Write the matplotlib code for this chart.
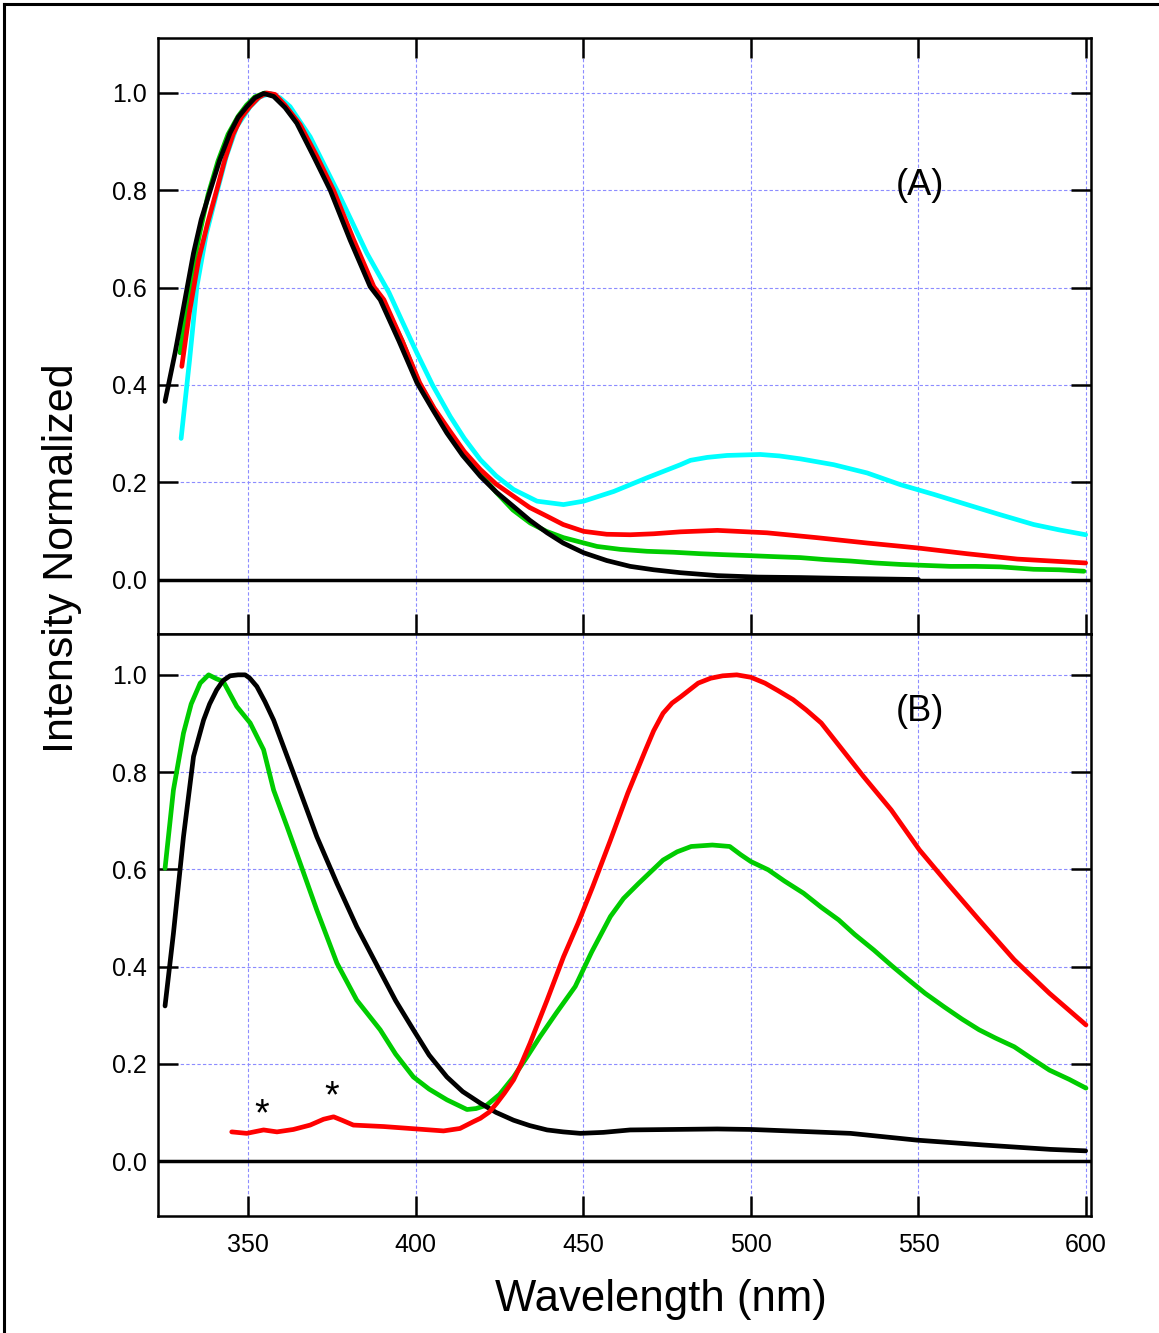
import matplotlib
matplotlib.use("Agg")
import matplotlib.pyplot as plt
from matplotlib.lines import Line2D

plt.rcParams['font.family'] = ['Liberation Sans', 'DejaVu Sans']

# ---------------- Panel (A) data ----------------
a_black_x = [325.2, 328.2, 331, 333.7, 336, 338.7, 341.5, 344.6, 347, 349.6, 352, 354.6, 357.6,
             361, 364.5, 369.5, 374.5, 380.4, 386.4, 389.4, 395, 400.4, 405, 409.3, 414, 419.3,
             424, 429.2, 434, 439.2, 444, 450.1, 457, 464, 471, 479, 490, 502, 515, 530, 550]
a_black_y = [0.366, 0.466, 0.570, 0.671, 0.740, 0.800, 0.862, 0.918, 0.950, 0.972, 0.990, 0.999,
             0.993, 0.970, 0.938, 0.870, 0.800, 0.698, 0.602, 0.575, 0.490, 0.404, 0.350, 0.301,
             0.255, 0.212, 0.180, 0.150, 0.122, 0.096, 0.075, 0.055, 0.039, 0.027, 0.020, 0.014,
             0.008, 0.005, 0.004, 0.002, 0.0]

a_red_x = [330.2, 332.5, 335.2, 338, 340.6, 343, 345.5, 348, 350.5, 353, 355.5, 358, 361, 365.5,
           370.5, 375.5, 381.5, 387.5, 390.5, 396, 401.2, 405.5, 410.2, 414.5, 419.3, 424,
           429.2, 434, 439.2, 444, 450.1, 457, 464, 471, 479, 490, 504.8, 519.7, 534.7,
           549.6, 564.5, 579.5, 599.9]
a_red_y = [0.438, 0.550, 0.657, 0.735, 0.800, 0.862, 0.915, 0.950, 0.972, 0.990, 1.0, 0.997,
           0.975, 0.935, 0.870, 0.800, 0.698, 0.602, 0.575, 0.490, 0.404, 0.352, 0.305, 0.263,
           0.226, 0.196, 0.171, 0.148, 0.130, 0.113, 0.099, 0.093, 0.092, 0.094, 0.098, 0.101,
           0.096, 0.086, 0.075, 0.065, 0.053, 0.042, 0.034]

a_green_x = [329.7, 333, 335.5, 338, 341, 344, 347, 349.5, 352, 355, 358, 361.5, 365, 370, 375,
             381, 387, 390, 396, 401, 405.5, 410, 414.5, 419.5, 424.2, 429, 434.2, 439, 444.1,
             454.1, 461, 469, 477, 485, 492, 499.9, 507, 514.8, 522, 529.7, 537, 544.6, 552,
             559.6, 567, 574.5, 584.4, 592, 599.4]
a_green_y = [0.466, 0.620, 0.710, 0.790, 0.860, 0.915, 0.952, 0.975, 0.992, 1.0, 0.993, 0.970,
             0.935, 0.868, 0.800, 0.698, 0.602, 0.575, 0.490, 0.404, 0.350, 0.303, 0.255, 0.215,
             0.178, 0.143, 0.116, 0.099, 0.086, 0.068, 0.062, 0.058, 0.056, 0.053, 0.051, 0.049,
             0.047, 0.045, 0.041, 0.038, 0.034, 0.031, 0.029, 0.027, 0.027, 0.026, 0.021, 0.020,
             0.017]

a_cyan_x = [330, 332.5, 334.7, 337.5, 340.6, 343.5, 346.6, 350.6, 353.5, 356.6, 359.5, 362.5,
            368.5, 372.5, 376.5, 381, 385.4, 392, 396, 400.4, 405, 410.3, 414.5, 419.3, 424,
            429.2, 436.2, 444.1, 450.1, 459.1, 469, 479, 482, 487, 492.9, 502.8, 508.5, 514.8,
            524.7, 534.7, 544.6, 554.6, 564.5, 574.5, 584.4, 592, 599.9]
a_cyan_y = [0.29, 0.45, 0.602, 0.710, 0.794, 0.870, 0.931, 0.972, 0.992, 0.999, 0.990, 0.972,
            0.910, 0.855, 0.800, 0.735, 0.671, 0.590, 0.530, 0.465, 0.400, 0.335, 0.290, 0.246,
            0.213, 0.185, 0.161, 0.154, 0.161, 0.181, 0.209, 0.236, 0.245, 0.251, 0.255, 0.257,
            0.254, 0.248, 0.236, 0.219, 0.195, 0.175, 0.154, 0.133, 0.113, 0.102, 0.092]

# ---------------- Panel (B) data ----------------
b_black_x = [325.2, 327.7, 330.7, 333.7, 336.7, 338.5, 340.6, 342.5, 344.6, 347, 349.1, 350.5,
             352.6, 355, 357.6, 363.5, 370.5, 376.5, 382.4, 389.4, 394, 399.3, 404, 409.3, 414,
             419.3, 424, 429.2, 434, 439.2, 444, 449.1, 456, 464, 477, 490, 500, 515, 529.7,
             549.6, 569.5, 589.4, 599.9]
b_black_y = [0.319, 0.468, 0.667, 0.832, 0.907, 0.940, 0.969, 0.988, 0.998, 1.0, 1.0, 0.993,
             0.976, 0.945, 0.907, 0.798, 0.667, 0.571, 0.482, 0.390, 0.330, 0.270, 0.218, 0.173,
             0.143, 0.119, 0.100, 0.084, 0.073, 0.064, 0.060, 0.057, 0.059, 0.064, 0.065, 0.066,
             0.065, 0.061, 0.057, 0.043, 0.033, 0.024, 0.021]

b_green_x = [325.2, 327.7, 330.7, 333, 335.7, 338.2, 340.5, 342.6, 346.6, 350.6, 354.6, 357.6,
             361.6, 365.5, 370.5, 376.5, 382.4, 389.4, 394, 399.3, 404, 409.3, 415.3, 418,
             421.2, 425, 429.2, 433, 437.1, 442, 447.6, 452.5, 458.1, 462, 466.5, 473.8, 478,
             482.2, 488.5, 493.7, 497, 500, 505.2, 510, 515.7, 521, 526.2, 531, 536.7, 542,
             547.2, 552, 557.7, 563, 568.1, 573, 578.6, 584, 589.1, 595, 600]
b_green_y = [0.602, 0.763, 0.880, 0.940, 0.983, 1.0, 0.992, 0.986, 0.935, 0.901, 0.846, 0.763,
             0.688, 0.613, 0.516, 0.407, 0.331, 0.270, 0.220, 0.173, 0.148, 0.126, 0.106, 0.108,
             0.115, 0.137, 0.173, 0.212, 0.256, 0.305, 0.359, 0.430, 0.503, 0.540, 0.571, 0.619,
             0.636, 0.647, 0.650, 0.647, 0.630, 0.616, 0.599, 0.576, 0.551, 0.522, 0.496, 0.466,
             0.434, 0.402, 0.372, 0.345, 0.317, 0.292, 0.270, 0.253, 0.235, 0.210, 0.187, 0.168,
             0.150]

b_red_x = [345.1, 349.6, 354.6, 358.6, 363.5, 368.5, 372.5, 375.5, 378, 381.4, 390.4, 400.3,
           408.3, 413.2, 417.2, 419.3, 422, 424.2, 426.5, 429.2, 431.5, 434.1, 439.2, 444.1,
           448.5, 452.8, 458.1, 463.3, 468.6, 471, 473.8, 476.5, 479.1, 484.3, 488, 491.6,
           495.8, 500, 504.2, 508, 512.6, 516.5, 521, 527.3, 533.6, 541.9, 550.3, 558.7, 568.1,
           578.6, 589.1, 600]
b_red_y = [0.060, 0.057, 0.064, 0.060, 0.065, 0.074, 0.086, 0.091, 0.084, 0.074, 0.071, 0.066,
           0.062, 0.067, 0.081, 0.088, 0.101, 0.119, 0.140, 0.167, 0.200, 0.242, 0.331, 0.420,
           0.490, 0.564, 0.660, 0.757, 0.846, 0.885, 0.921, 0.942, 0.955, 0.983, 0.993, 0.998,
           1.0, 0.995, 0.983, 0.968, 0.949, 0.928, 0.901, 0.846, 0.791, 0.722, 0.640, 0.571,
           0.496, 0.414, 0.345, 0.280]

star_x = [354.1, 374.8]
star_y = [0.095, 0.132]

x_ticks = [350, 400, 450, 500, 550, 600]
y_ticks = [0.0, 0.2, 0.4, 0.6, 0.8, 1.0]
y_ticklabels = ["0.0", "0.2", "0.4", "0.6", "0.8", "1.0"]

BLACK = "#000000"
RED = "#ff0000"
GREEN = "#00cc00"
CYAN = "#00ffff"
GRID = "#8c8cff"
LW = 3.4

fig = plt.figure(figsize=(11.59, 13.33), dpi=100)
ax1 = fig.add_axes([158/1159, 1-634/1333, 933/1159, 596/1333])
ax2 = fig.add_axes([158/1159, 1-1216/1333, 933/1159, 582/1333])

for ax in (ax1, ax2):
    ax.set_xlim(323.1, 601.5)
    ax.set_xticks(x_ticks)
    ax.set_yticks(y_ticks)
    ax.set_yticklabels(y_ticklabels)
    ax.grid(True, color=GRID, linestyle=(0, (3, 2)), linewidth=0.8)
    ax.set_axisbelow(True)
    ax.axhline(0, color=BLACK, lw=2.5, zorder=3)
    for s in ax.spines.values():
        s.set_linewidth(1.8)
        s.set_zorder(5)
    ax.tick_params(direction='in', length=14.5, width=1.8, labelsize=18, pad=8)

ax1.set_ylim(-0.112, 1.113)
ax2.set_ylim(-0.113, 1.084)

ax1.tick_params(top=True, bottom=True, left=True, right=True, labelbottom=False)
ax2.tick_params(top=False, bottom=True, left=True, right=True)
ax2.tick_params(axis='x', pad=12)
ax2.set_xticklabels([str(v) for v in x_ticks])

kw = dict(lw=LW, zorder=4, solid_capstyle='round', solid_joinstyle='round')
ax1.plot(a_cyan_x, a_cyan_y, color=CYAN, **kw)
ax1.plot(a_green_x, a_green_y, color=GREEN, **kw)
ax1.plot(a_red_x, a_red_y, color=RED, **kw)
ax1.plot(a_black_x, a_black_y, color=BLACK, **kw)

ax2.plot(b_green_x, b_green_y, color=GREEN, **kw)
ax2.plot(b_black_x, b_black_y, color=BLACK, **kw)
ax2.plot(b_red_x, b_red_y, color=RED, **kw)

for sx, sy in zip(star_x, star_y):
    ax2.text(sx, sy, "*", fontsize=27, ha='center', va='center', color=BLACK)

ax1.text(550.5, 0.809, "(A)", fontsize=26, ha='center', va='center')
ax2.text(550.5, 0.924, "(B)", fontsize=26, ha='center', va='center')

fig.text(62/1159, 1-558/1333, "Intensity Normalized", rotation=90, fontsize=31,
         ha='center', va='center')
fig.text(661/1159, 1-1300/1333, "Wavelength (nm)", fontsize=31.5, ha='center', va='center')

# outer frame (left and top edges)
fig.add_artist(Line2D([4/1159, 4/1159], [0, 1-4/1333], transform=fig.transFigure,
                      color=BLACK, lw=2.2))
fig.add_artist(Line2D([4/1159, 1], [1-4/1333, 1-4/1333], transform=fig.transFigure,
                      color=BLACK, lw=2.2))

fig.savefig("out.png", dpi=100)
